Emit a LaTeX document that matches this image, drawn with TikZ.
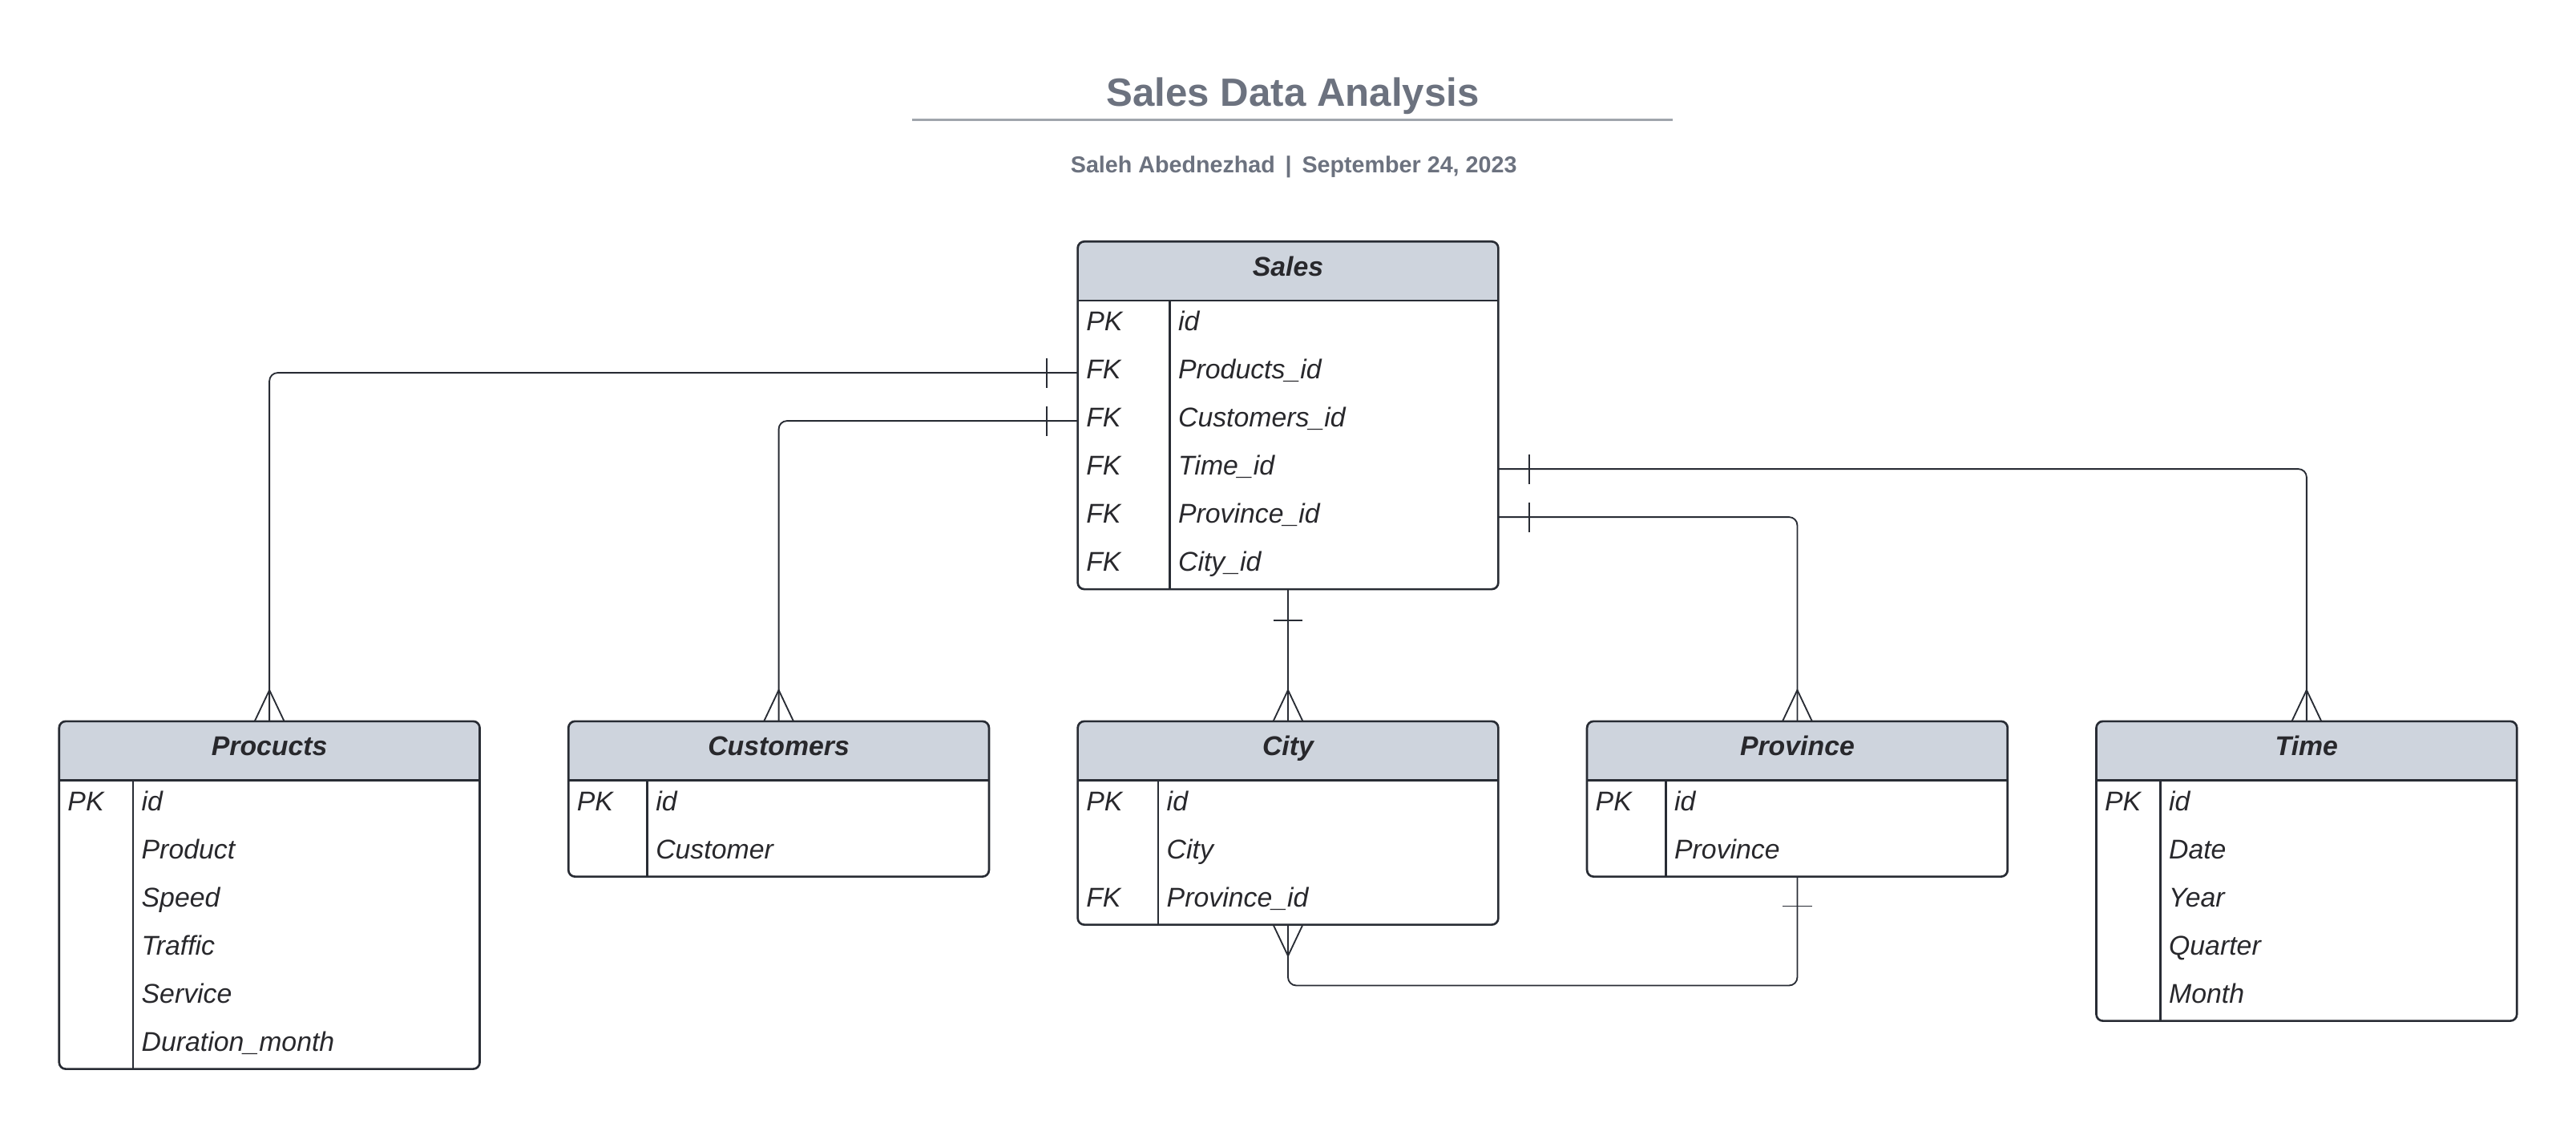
\documentclass[tikz,border=0pt]{standalone}
\usepackage{fontspec}
\setmainfont{Liberation Sans}
\usetikzlibrary{calc}
\definecolor{linecol}{RGB}{40,44,52}
\definecolor{hdrcol}{RGB}{206,212,221}
\definecolor{titlecol}{RGB}{108,114,127}
\definecolor{rulecol}{RGB}{160,165,172}
\definecolor{textcol}{RGB}{40,40,44}
\tikzset{
  tablebox/.style={rectangle, inner sep=0pt, outer sep=0pt, minimum width=256pt, anchor=north west},
  boxline/.style={draw=linecol, line width=1.3pt},
  conn/.style={draw=linecol, line width=0.9pt, rounded corners=5pt},
  tickline/.style={draw=linecol, line width=0.9pt},
  hdrtext/.style={font=\fontsize{16.5}{20}\selectfont\bfseries\itshape, text=textcol, inner sep=0pt, anchor=base},
  celltext/.style={font=\fontsize{16.5}{20}\selectfont\itshape, text=textcol, inner sep=0pt, anchor=base west},
}
\newcommand{\ertable}[7]{%
  \pgfmathsetmacro{\tabh}{36+#5*29.27}
  \node[tablebox, minimum height=\tabh pt] (#1) at (#2,#3) {};
  \begin{scope}
    \clip[rounded corners=4pt] (#1.north west) rectangle (#1.south east);
    \fill[hdrcol] (#1.north west) rectangle ([yshift=-36pt]#1.north east);
  \end{scope}
  \node[hdrtext] (#1-title) at ([yshift=-21pt]#1.north) {#6};
  \foreach \k/\f [count=\i] in {#7} {
    \pgfmathsetmacro{\ry}{-36-(\i-0.5)*29.27}
    \coordinate (#1-L\i) at ([yshift=\ry pt]#1.north west);
    \coordinate (#1-R\i) at ([yshift=\ry pt]#1.north east);
    \node[celltext] (#1-k\i) at ([xshift=5pt,yshift=-3.8pt]#1-L\i) {\k};
    \node[celltext] (#1-f\i) at ([xshift=#4pt+5pt,yshift=-3.8pt]#1-L\i) {\f};
  }
  \draw[boxline] ([yshift=-36pt]#1.north west) -- ([yshift=-36pt]#1.north east);
  \draw[boxline] ([xshift=#4pt,yshift=-36pt]#1.north west) -- ([xshift=#4pt]#1.south west);
  \draw[boxline, rounded corners=4pt] (#1.north west) rectangle (#1.south east);
}
\newcommand{\tickv}[2]{\draw[tickline] ([xshift=#2pt,yshift=9pt]#1) -- ([xshift=#2pt,yshift=-9pt]#1);}
\newcommand{\tickh}[2]{\draw[tickline] ([xshift=-9pt,yshift=#2pt]#1) -- ([xshift=9pt,yshift=#2pt]#1);}
\newcommand{\crowfoot}[2]{\draw[tickline] ([xshift=-9pt]#1) -- ([yshift=#2pt]#1) -- ([xshift=9pt]#1);}
\begin{document}
\begin{tikzpicture}[x=1pt, y=-1pt]
\useasboundingbox (0,0) rectangle (1568,688);
\fill[white] (0,0) rectangle (1568,688);
% title
\node[anchor=base, inner sep=0pt, text=titlecol, font=\fontsize{24}{28}\selectfont\bfseries] (title) at (787,64.5) {Sales Data Analysis};
\coordinate (ruleL) at (555,73);
\coordinate (ruleR) at (1018,73);
\draw[rulecol, line width=1.5pt] (ruleL) -- (ruleR);
\node[anchor=base, inner sep=0pt, text=titlecol, font=\fontsize{14}{17}\selectfont\bfseries] (subtitle) at (787.5,105) {Saleh Abednezhad \,|\, September 24, 2023};
% tables
\ertable{sales}{656}{147}{56}{6}{Sales}{PK/id, FK/Products\_id, FK/Customers\_id, FK/Time\_id, FK/Province\_id, FK/City\_id}
\ertable{products}{36}{439}{45}{6}{Procucts}{PK/id, /Product, /Speed, /Traffic, /Service, /Duration\_month}
\ertable{customers}{346}{439}{48}{2}{Customers}{PK/id, /Customer}
\ertable{city}{656}{439}{49}{3}{City}{PK/id, /City, FK/Province\_id}
\ertable{province}{966}{439}{48}{2}{Province}{PK/id, /Province}
\ertable{time}{1276}{439}{39}{5}{Time}{PK/id, /Date, /Year, /Quarter, /Month}
% connectors
\draw[conn] (sales-L2) -| (products.north);
\draw[conn] (sales-L3) -| (customers.north);
\draw[conn] (sales-R4) -| (time.north);
\draw[conn] (sales-R5) -| (province.north);
\draw[conn] (sales.south) -- (city.north);
\draw[conn] (city.south) -- ([yshift=-37pt]city.south) -| (province.south);
% one marks
\tickv{sales-L2}{-19}
\tickv{sales-L3}{-19}
\tickv{sales-R4}{19}
\tickv{sales-R5}{19}
\tickh{sales.south}{-19}
\tickh{province.south}{-18}
% many marks
\crowfoot{products.north}{19}
\crowfoot{customers.north}{19}
\crowfoot{city.north}{19}
\crowfoot{province.north}{19}
\crowfoot{time.north}{19}
\crowfoot{city.south}{-19}
\end{tikzpicture}
\end{document}
